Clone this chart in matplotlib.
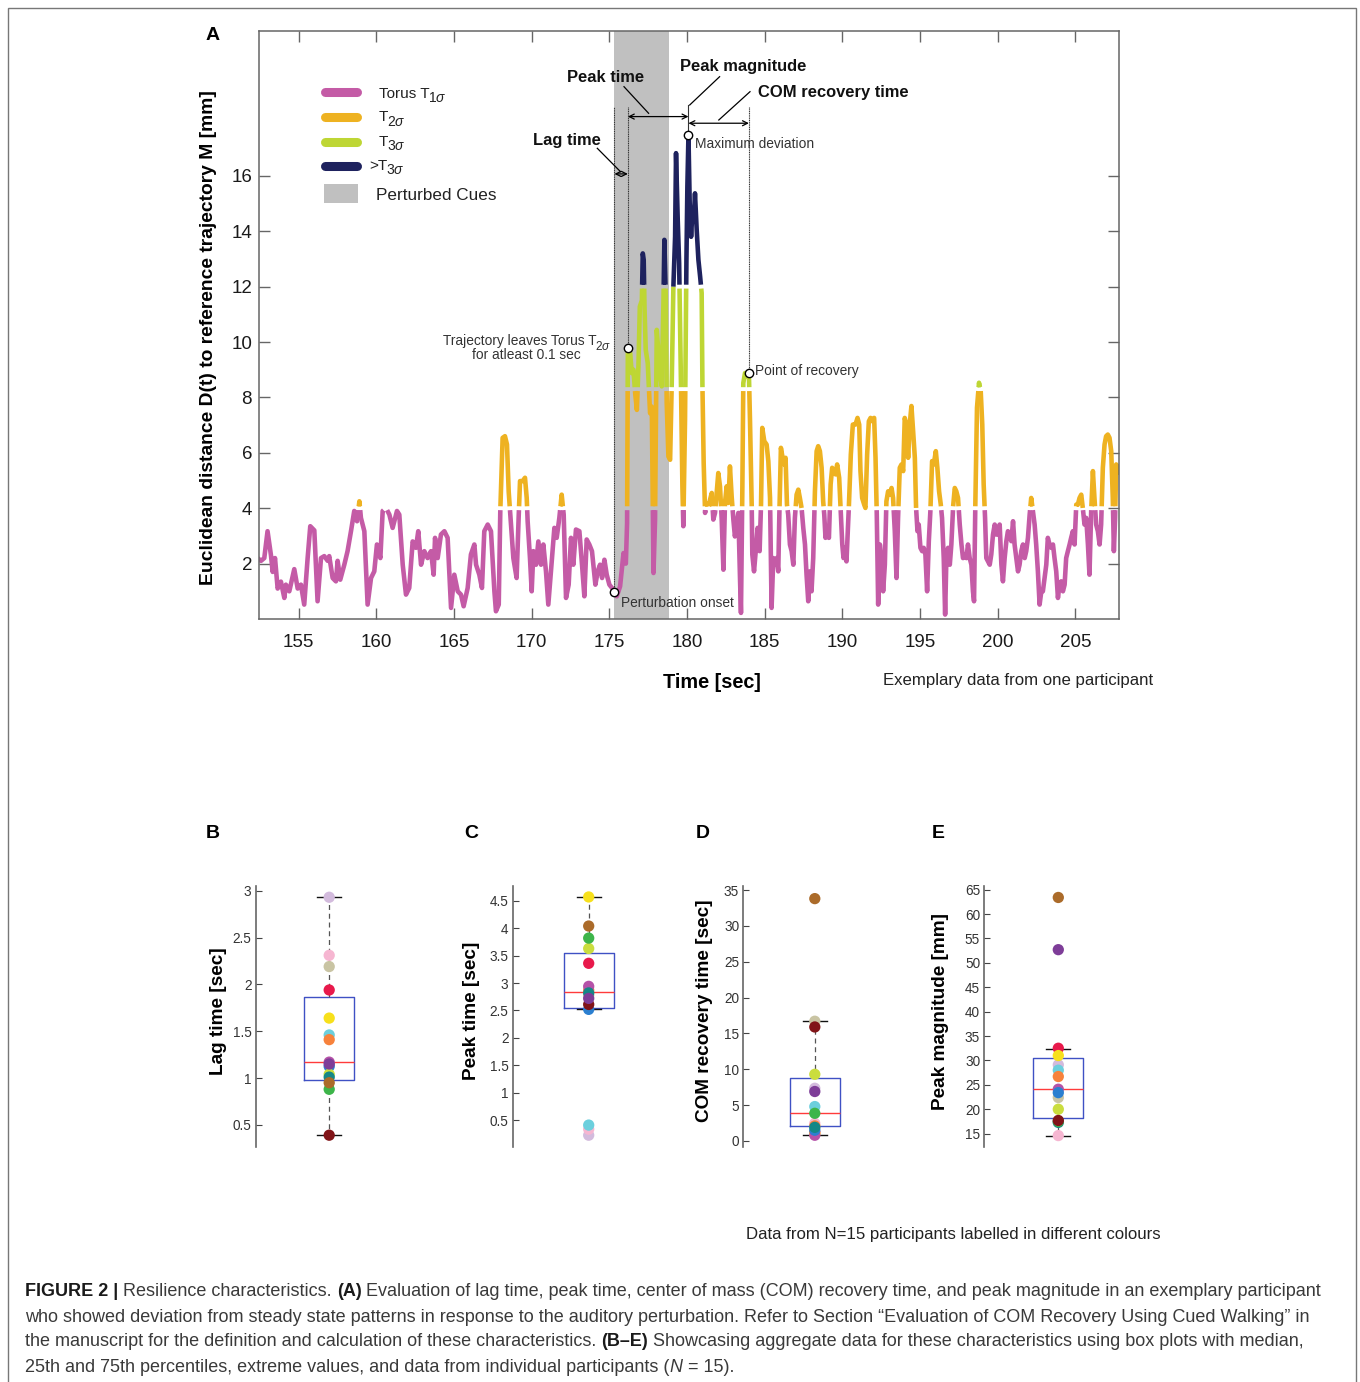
import numpy as np
import matplotlib
matplotlib.use('Agg')
import matplotlib.pyplot as plt
from matplotlib.collections import LineCollection
from matplotlib.lines import Line2D
from matplotlib.patches import Rectangle

plt.rcParams['font.family'] = ['Liberation Sans', 'DejaVu Sans']
plt.rcParams['mathtext.fontset'] = 'custom'
plt.rcParams['mathtext.rm'] = 'Liberation Sans'
plt.rcParams['mathtext.it'] = 'Liberation Sans:italic'
plt.rcParams['mathtext.bf'] = 'Liberation Sans:bold'

# ---------------- data: panel A (one participant) ----------------
t_pre1 = [152.36, 152.58, 152.79, 153.00, 153.22, 153.33, 153.48, 153.65, 153.86, 154.08,
          154.18, 154.40, 154.72, 154.94, 155.15, 155.36, 155.58, 155.75, 156.01, 156.22,
          156.44, 156.65, 156.87, 156.97, 157.19, 157.40, 157.51, 157.68, 157.94, 158.15,
          158.37, 158.58, 158.76, 158.91, 159.01, 159.23, 159.44, 159.66, 159.87, 160.04,
          160.26, 160.41, 160.62, 160.84, 161.05, 161.33, 161.48, 161.70, 161.91, 162.12,
          162.34, 162.55, 162.70, 162.88, 163.09, 163.30, 163.52, 163.69, 163.78, 163.95,
          164.16, 164.38, 164.59, 164.81, 165.02, 165.24, 165.45, 165.62, 165.88, 166.09,
          166.31]
d_pre1 = [2.2, 2.1, 2.2, 3.17, 2.3, 1.7, 2.2, 1.1, 1.35, 0.76,
          1.24, 1.0, 1.8, 1.1, 1.24, 0.52, 2.2, 3.35, 3.2, 0.64,
          2.2, 2.27, 2.1, 2.27, 1.48, 1.36, 2.1, 1.42, 1.96, 2.45,
          3.17, 3.9, 3.53, 4.25, 3.65, 3.17, 0.52, 1.48, 1.72, 2.69,
          2.2, 3.9, 4.01, 3.77, 3.29, 3.9, 3.77, 1.96, 0.88, 1.12,
          2.8, 2.57, 3.17, 1.96, 2.45, 2.2, 2.45, 1.6, 2.93, 2.2,
          3.05, 3.17, 2.93, 0.4, 1.6, 1.0, 0.88, 0.46, 1.12, 2.33,
          2.69]

t_pre2 = [166.42, 166.63, 166.80, 166.95, 167.17, 167.38, 167.60, 167.70, 167.88, 167.98,
          168.13, 168.28, 168.41, 168.52, 168.67, 168.82, 169.03, 169.16, 169.25, 169.42,
          169.57, 169.68, 169.74, 169.89, 170.00, 170.11, 170.28, 170.43, 170.60, 170.75,
          170.92, 171.07, 171.24, 171.46, 171.61, 171.78, 171.93, 172.06, 172.21, 172.38,
          172.53, 172.68, 172.85, 173.07, 173.24, 173.39, 173.54, 173.71, 173.88, 174.10,
          174.25, 174.40, 174.53, 174.68, 174.83, 175.00, 175.17]
d_pre2 = [1.96, 1.6, 1.12, 3.17, 3.41, 3.17, 1.0, 0.28, 0.52, 3.9,
          6.54, 6.6, 6.3, 4.6, 3.4, 2.2, 1.48, 3.65, 4.98, 4.98,
          5.1, 4.37, 3.53, 2.2, 1.0, 2.45, 1.96, 2.8, 1.96, 2.69,
          1.72, 0.52, 1.72, 3.29, 2.93, 3.65, 4.49, 3.77, 0.76, 1.24,
          2.93, 1.96, 3.23, 3.17, 1.96, 0.82, 2.87, 2.69, 2.45, 1.24,
          1.72, 1.96, 1.48, 2.14, 1.6, 1.24, 1.12]

t_pert = [175.33, 175.48, 175.69, 175.91, 176.06, 176.14, 176.19, 176.34, 176.44, 176.55,
          176.66, 176.77, 176.87, 176.96, 177.09, 177.15, 177.21, 177.26, 177.34, 177.47,
          177.62, 177.73, 177.84, 177.94, 178.05, 178.16, 178.26, 178.37, 178.48, 178.54,
          178.63, 178.69, 178.80, 178.91, 179.01, 179.12, 179.23, 179.29, 179.40, 179.49,
          179.61, 179.70, 179.76, 179.87, 179.96, 180.02, 180.09, 180.17, 180.26, 180.34,
          180.43, 180.51, 180.62, 180.73, 180.84, 180.94, 180.99, 181.07, 181.16, 181.26,
          181.37, 181.48, 181.59, 181.69, 181.80, 182.01, 182.12, 182.23, 182.34, 182.44,
          182.55, 182.66, 182.76, 182.87, 182.98, 183.08, 183.30, 183.41, 183.47, 183.56,
          183.62, 183.73, 183.90, 183.98, 184.05]
d_pert = [0.99, 0.82, 1.18, 2.38, 2.0, 3.46, 9.77, 9.6, 8.88, 9.0,
          8.16, 7.55, 9.12, 11.28, 11.5, 13.2, 12.97, 11.28, 9.72, 9.24,
          7.43, 7.67, 1.66, 3.59, 10.44, 9.6, 8.88, 8.4, 11.4, 13.69,
          11.64, 7.8, 5.87, 5.75, 8.4, 12.0, 13.8, 16.82, 14.41, 12.85,
          8.4, 4.79, 3.35, 7.2, 12.97, 15.61, 17.48, 15.01, 13.8, 14.65,
          14.41, 15.37, 14.05, 12.97, 12.37, 11.77, 8.4, 5.63, 3.83, 4.19,
          3.95, 4.31, 4.55, 3.59, 3.83, 5.27, 4.79, 3.59, 1.78, 4.19,
          4.79, 4.19, 5.51, 4.43, 3.59, 2.98, 3.83, 1.42, 0.22, 4.79,
          8.52, 8.88, 8.76, 8.88, 7.19]

t_post1 = [184.16, 184.20, 184.31, 184.42, 184.54, 184.67, 184.76, 184.84, 184.97, 185.12,
           185.23, 185.34, 185.44, 185.55, 185.66, 185.77, 185.87, 185.94, 186.04, 186.15,
           186.26, 186.34, 186.43, 186.51, 186.62, 186.73, 186.84, 186.94, 187.05, 187.16,
           187.26, 187.37, 187.48, 187.59, 187.69, 187.80, 187.91, 188.01, 188.12, 188.23,
           188.34, 188.44, 188.55, 188.66, 188.76, 188.83, 188.91, 189.02, 189.13, 189.24,
           189.34, 189.45, 189.56, 189.66, 189.79, 189.90, 189.99, 190.07, 190.16, 190.26,
           190.41, 190.54, 190.67, 190.84, 190.97, 191.08, 191.16, 191.27, 191.40, 191.48,
           191.59, 191.70, 191.81, 191.93, 192.04, 192.13, 192.21, 192.30, 192.41, 192.51,
           192.62, 192.73, 192.83, 192.94, 193.05, 193.16, 193.26, 193.37, 193.48, 193.58,
           193.69, 193.80, 193.91, 194.01, 194.12, 194.23, 194.33, 194.44, 194.55, 194.66,
           194.74, 194.83, 194.91, 195.02, 195.13, 195.23, 195.34, 195.45, 195.56, 195.66,
           195.77]
d_post1 = [4.13, 2.33, 1.72, 2.45, 3.29, 2.45, 4.13, 6.9, 6.42, 6.3,
           5.7, 4.37, 0.4, 2.2, 1.96, 2.2, 1.72, 3.77, 6.18, 5.82,
           5.58, 5.82, 4.13, 3.77, 2.69, 2.45, 1.96, 3.65, 4.49, 4.67,
           4.37, 4.01, 3.29, 2.69, 1.6, 0.64, 1.72, 1.0, 2.2, 4.61,
           6.06, 6.24, 6.06, 5.46, 4.25, 3.77, 2.93, 3.17, 2.93, 4.86,
           5.46, 5.34, 5.22, 5.58, 5.1, 3.77, 2.69, 2.2, 2.57, 2.08,
           4.01, 5.94, 7.02, 7.02, 7.26, 7.02, 5.34, 4.37, 4.13, 4.01,
           5.94, 7.14, 7.26, 7.14, 7.26, 5.82, 3.77, 0.52, 2.69, 2.2,
           1.0, 1.96, 4.25, 4.61, 4.49, 4.73, 4.37, 3.17, 1.48, 3.65,
           5.46, 5.58, 5.34, 7.26, 7.02, 5.82, 7.02, 7.69, 6.78, 5.82,
           4.01, 3.17, 3.41, 2.57, 2.45, 2.57, 2.33, 1.0, 2.81, 3.89,
           5.7]

t_post2 = [195.88, 196.01, 196.11, 196.22, 196.33, 196.41, 196.52, 196.61, 196.69, 196.80,
           196.91, 197.01, 197.12, 197.23, 197.33, 197.44, 197.55, 197.66, 197.76, 197.87,
           197.98, 198.08, 198.19, 198.30, 198.40, 198.47, 198.55, 198.66, 198.79, 198.90,
           199.00, 199.09, 199.18, 199.26, 199.37, 199.48, 199.58, 199.69, 199.80, 199.90,
           200.01, 200.12, 200.23, 200.33, 200.44, 200.55, 200.65, 200.76, 200.87, 200.98,
           201.08, 201.19, 201.30, 201.40, 201.51, 201.62, 201.73, 201.83, 201.94, 202.05,
           202.15, 202.26, 202.37, 202.47, 202.58, 202.69, 202.80, 202.90, 203.01, 203.12,
           203.22, 203.33, 203.44, 203.55, 203.65, 203.76, 203.87, 203.97, 204.08, 204.19,
           204.30, 204.40, 204.51, 204.62, 204.72, 204.83, 204.94, 205.05, 205.15, 205.26,
           205.37, 205.47, 205.58, 205.69, 205.80, 205.90, 206.01, 206.12, 206.22, 206.33,
           206.44, 206.55, 206.65, 206.76, 206.87, 206.97, 207.08, 207.19, 207.30, 207.40,
           207.47, 207.55, 207.62, 207.72, 207.83]
d_post2 = [5.58, 6.06, 5.46, 4.61, 4.13, 3.65, 2.2, 0.16, 2.2, 2.57,
           1.96, 2.69, 4.01, 4.73, 4.61, 4.37, 3.41, 2.69, 2.2, 2.33,
           2.2, 2.69, 2.2, 1.96, 1.0, 0.64, 4.01, 7.63, 8.53, 8.23,
           7.02, 4.86, 3.65, 2.2, 2.08, 1.96, 2.33, 3.05, 3.41, 3.05,
           3.05, 3.41, 1.96, 1.36, 2.2, 2.81, 3.17, 3.05, 2.81, 3.53,
           2.69, 2.2, 1.72, 1.96, 2.45, 2.69, 2.2, 2.45, 2.93, 3.77,
           4.37, 3.89, 3.41, 2.69, 1.72, 0.52, 1.0, 1.0, 1.48, 1.96,
           2.93, 2.69, 2.57, 2.69, 2.2, 1.72, 0.76, 1.24, 1.36, 1.0,
           1.24, 2.2, 2.45, 2.69, 2.93, 3.17, 2.69, 4.13, 4.13, 4.37,
           4.49, 4.01, 3.41, 3.65, 2.69, 1.6, 3.89, 5.34, 4.37, 3.41,
           3.17, 2.69, 3.41, 5.46, 6.3, 6.6, 6.66, 6.54, 6.06, 4.37,
           2.45, 3.65, 5.58, 5.46, 5.22]

torus_levels = [4.0, 8.3, 12.0]          # T1 / T2 / T3 boundaries [mm]
band_colors = ['#c45ba6', '#eeb221', '#bed634', '#1e225e']
band_main = ['Torus T', 'T', 'T', '>T']
band_subs = [r'$1\sigma$', r'$2\sigma$', r'$3\sigma$', r'$3\sigma$']

cue_start, cue_end = 175.33, 178.84
onset_t, onset_d = 175.33, 0.99
lag_t, lag_d = 176.19, 9.77
peak_t, peak_d = 180.09, 17.48
recov_t, recov_d = 183.98, 8.88

# ---------------- data: panels B-E (15 participants) ----------------
part_colors = ['#d3bbdd', '#f6b6d1', '#c9c4a3', '#e8194b', '#f7e01c',
               '#6ccfdd', '#f7823c', '#b552a8', '#2b7fd0', '#cadd3e',
               '#148787', '#3db54a', '#ab6b2a', '#811418', '#7e3d98']
lag_sec = [2.93, 2.31, 2.19, 1.94, 1.64, 1.46, 1.41, 1.17, 1.125, 1.04, 1.01, 0.88, 0.95, 0.39, 1.15]
peak_sec = [0.225, 0.335, 2.78, 3.36, 4.57, 0.41, 2.87, 2.94, 2.52, 3.63, 2.82, 3.82, 4.04, 2.61, 2.72]
com_sec = [7.35, 2.46, 16.7, 1.2, 1.0, 4.8, 2.1, 0.8, 1.5, 9.3, 1.9, 3.86, 33.8, 15.9, 6.9]
mag_mm = [29.1, 14.6, 22.4, 32.5, 31.0, 28.0, 26.7, 24.1, 23.4, 20.0, 17.3, 17.5, 63.4, 17.7, 52.7]
# box summaries: q1, median, q3, lower whisker, upper whisker
lag_box = [0.98, 1.17, 1.86, 0.39, 2.93]
peak_box = [2.55, 2.83, 3.55, 2.53, 4.57]
com_box = [2.1, 3.86, 8.83, 0.8, 16.7]
mag_box = [18.2, 24.05, 30.5, 14.6, 32.35]

W, H = 1360, 1382
fig = plt.figure(figsize=(W / 100, H / 100), dpi=100)
renderer = fig.canvas.get_renderer()


def fx(x):
    return x / W


def fy(y):
    return 1 - y / H


def ftext(x, y, s, **kw):
    return fig.text(fx(x), fy(y), s, **kw)


def sub_text(x, y, main, sub, size, subsize, drop, **kw):
    # main text on baseline y (pixels), subscript placed right after it
    t = ftext(x, y, main, fontsize=size, va='baseline', **kw)
    w = t.get_window_extent(renderer).width
    ftext(x + w - 1.5, y + drop, sub, fontsize=subsize, va='baseline', **kw)


def band_paths(t, d, levels, gap=0.07):
    # split the trace into runs of one torus band, with a small gap at each crossing
    paths = [[] for _ in range(len(levels) + 1)]
    cur, cur_k = None, None
    for i in range(len(t) - 1):
        t0, v0, t1, v1 = t[i], d[i], t[i + 1], d[i + 1]
        cuts = [0.0, 1.0]
        for lv in levels:
            if (v0 - lv) * (v1 - lv) < 0:
                cuts.append((lv - v0) / (v1 - v0))
        cuts.sort()
        g = gap / abs(v1 - v0) if v1 != v0 else 0
        for a, b in zip(cuts[:-1], cuts[1:]):
            mid = v0 + 0.5 * (a + b) * (v1 - v0)
            k = int(np.searchsorted(levels, mid))
            pb_frac = b - g if b < 1 else b
            pa_frac = a + g if a > 0 else a
            pb = (t0 + pb_frac * (t1 - t0), v0 + pb_frac * (v1 - v0))
            pa = (t0 + pa_frac * (t1 - t0), v0 + pa_frac * (v1 - v0))
            if a == 0 and cur is not None and cur_k == k:
                if pb_frac > pa_frac:
                    cur.append(pb)
            else:
                if cur is not None and len(cur) > 1:
                    paths[cur_k].append(cur)
                cur, cur_k = ([pa, pb] if pb_frac > pa_frac else [pa]), k
    if cur is not None and len(cur) > 1:
        paths[cur_k].append(cur)
    return paths


# ---------------- panel A ----------------
ax = fig.add_axes([fx(259), fy(619), fx(1119 - 259), (619 - 31) / H])
time_s = np.array(t_pre1 + t_pre2 + t_pert + t_post1 + t_post2)
dist_mm = np.array(d_pre1 + d_pre2 + d_pert + d_post1 + d_post2)
ax.axvspan(cue_start, cue_end, color='#c0c0c0', lw=0, zorder=0)
for k, runs in enumerate(band_paths(time_s, dist_mm, torus_levels)):
    lc = LineCollection(runs, colors=band_colors[k], linewidths=3.3,
                        capstyle='butt', joinstyle='round', zorder=2)
    ax.add_collection(lc)

ax.set_xlim(152.45, 207.8)
ax.set_ylim(0.0, 21.23)
ax.set_xticks(range(155, 206, 5))
ax.set_yticks(range(2, 17, 2))
ax.tick_params(direction='in', length=8, top=True, right=True, labelsize=13.5,
               color='#666666', labelcolor='#1a1a1a', width=1)
ax.tick_params(axis='x', pad=11)
ax.tick_params(axis='y', pad=5)
for sp in ax.spines.values():
    sp.set_color('#666666')
    sp.set_linewidth(1.1)

# event markers and guide lines
line_top = 18.5
for tt, dd in [(onset_t, onset_d), (lag_t, lag_d), (recov_t, recov_d)]:
    ax.plot([tt, tt], [dd, line_top], color='#333333', lw=0.8, ls=(0, (1, 0.6)), zorder=3)
ax.plot([peak_t, peak_t], [peak_d, 18.56], color='#333333', lw=0.8, zorder=3)
for tt, dd in [(onset_t, onset_d), (lag_t, lag_d), (peak_t, peak_d), (recov_t, recov_d)]:
    ax.plot(tt, dd, 'o', mfc='white', mec='k', ms=6, mew=1.0, zorder=4)

arrow_kw = dict(arrowstyle='<->', lw=0.9, color='k', shrinkA=0, shrinkB=0, mutation_scale=9)
ax.annotate('', xy=(lag_t, 16.07), xytext=(onset_t, 16.07), arrowprops=arrow_kw)
ax.annotate('', xy=(peak_t, 18.14), xytext=(lag_t, 18.14), arrowprops=arrow_kw)
ax.annotate('', xy=(recov_t, 17.9), xytext=(peak_t, 17.9), arrowprops=arrow_kw)

# leader lines and labels
for (x0, y0), (x1, y1) in [((624, 86.7), (648.6, 113.3)), ((719.6, 76.7), (689.7, 105)),
                           ((750, 91.7), (718.8, 120)), ((597.3, 148.3), (620.5, 171.7))]:
    fig.add_artist(Line2D([fx(x0), fx(x1)], [fy(y0), fy(y1)], color='k', lw=0.9))

bold_kw = dict(fontsize=11.9, fontweight='bold', va='center', color='#111111')
ftext(606, 78, 'Peak time', ha='center', **bold_kw)
ftext(743, 66, 'Peak magnitude', ha='center', **bold_kw)
ftext(833, 92, 'COM recovery time', ha='center', **bold_kw)
ftext(567, 141, 'Lag time', ha='center', **bold_kw)

note_kw = dict(fontsize=9.9, va='center', color='#333333')
ftext(695, 144, 'Maximum deviation', ha='left', **note_kw)
ftext(755, 371, 'Point of recovery', ha='left', **note_kw)
ftext(621, 603, 'Perturbation onset', ha='left', **note_kw)
sub_text(443, 345.5, 'Trajectory leaves Torus T', r'$2\sigma$', 9.9, 8.6, 4, color='#333333')
ftext(526, 355, 'for atleast 0.1 sec', ha='center', **note_kw)

# legend (drawn by hand to match the layout)
for k, (yy, base) in enumerate(zip([92, 117, 142, 166], [97.5, 121, 146, 170])):
    fig.add_artist(Line2D([fx(325), fx(357)], [fy(yy), fy(yy)], color=band_colors[k],
                          lw=6.5, solid_capstyle='round'))
    sub_text(379 if k < 3 else 369, base, band_main[k], band_subs[k], 11, 10, 4.5, color='#222222')
fig.add_artist(Rectangle((fx(324), fy(203)), fx(34), 19 / H, color='#c0c0c0', lw=0))
ftext(376, 195, 'Perturbed Cues', fontsize=12.3, va='center', color='#222222')

ftext(213, 35, 'A', fontsize=14, fontweight='bold', ha='center', va='center')
ftext(712, 682, 'Time [sec]', fontsize=14.3, fontweight='bold', ha='center', va='center')
ftext(209, 338, 'Euclidean distance D(t) to reference trajectory M [mm]', fontsize=13.9,
      fontweight='bold', rotation=90, ha='center', va='center')
ftext(883, 680, 'Exemplary data from one participant', fontsize=12.05, va='center', color='#222222')

# ---------------- panels B-E ----------------
panels = [
    ('B', 'Lag time [sec]', lag_sec, lag_box, (0.264, 3.05), np.arange(0.5, 3.01, 0.5),
     255.7, 147, 213, 218),
    ('C', 'Peak time [sec]', peak_sec, peak_box, (0.01, 4.77), np.arange(0.5, 4.51, 0.5),
     512.7, 152, 471, 471),
    ('D', 'COM recovery time [sec]', com_sec, com_box, (-0.84, 35.56), np.arange(0, 36, 5),
     743.3, 143, 703, 704),
    ('E', 'Peak magnitude [mm]', mag_mm, mag_box, (12.26, 65.75), np.arange(15, 66, 5),
     984.3, 148, 938, 940.5),
]
for letter, ylabel, vals, box, ylim, yticks, left, width, lx, labx in panels:
    bax = fig.add_axes([fx(left), fy(1147), fx(width), (1147 - 886) / H])
    q1, med, q3, lo, hi = box
    stats = [dict(q1=q1, med=med, q3=q3, whislo=lo, whishi=hi, fliers=[])]
    bax.bxp(stats, positions=[1], widths=50 / width, showfliers=False, capwidths=24 / width,
            boxprops=dict(color='#3f51c4', lw=1.0),
            medianprops=dict(color='#ff3b3b', lw=1.0),
            whiskerprops=dict(color='#555555', lw=0.9, linestyle=(0, (4, 3))),
            capprops=dict(color='#111111', lw=1.0), manage_ticks=False)
    bax.scatter(np.ones(len(vals)), vals, s=66, c=part_colors[:len(vals)], linewidths=0, zorder=4)
    bax.set_xlim(0.5, 1.5)
    bax.set_ylim(*ylim)
    bax.set_xticks([])
    bax.set_yticks(yticks)
    bax.set_yticklabels(['%g' % v for v in yticks])
    bax.tick_params(axis='y', direction='in', length=4, labelsize=9.8, labelcolor='#333333',
                    color='#444444', pad=3)
    for side in ['top', 'right', 'bottom']:
        bax.spines[side].set_visible(False)
    bax.spines['left'].set_color('#666666')
    bax.spines['left'].set_linewidth(1.2)
    ftext(lx, 834, letter, fontsize=14, fontweight='bold', ha='center', va='center')
    ftext(labx, 1011, ylabel, fontsize=13.7, fontweight='bold', rotation=90, ha='center', va='center')

ftext(746, 1234, 'Data from N=15 participants labelled in different colours', fontsize=12.05,
      va='center', color='#222222')

# ---------------- caption ----------------
cap_size = 12.95


def text_width(s, **kw):
    t = fig.text(0, 0, s, fontsize=cap_size, **kw)
    w = t.get_window_extent(renderer).width
    t.remove()
    return w


space_w = text_width('x x') - text_width('xx')


def rich_line(x, y, parts):
    for s, style, gap in parts:
        kw = dict(color='#3a3a3a')
        if style == 'b':
            kw = dict(fontweight='bold', color='#1a1a1a')
        elif style == 'i':
            kw = dict(fontstyle='italic', color='#3a3a3a')
        t = ftext(x, y + 5.5, s, fontsize=cap_size, va='baseline', **kw)
        x += t.get_window_extent(renderer).width + (space_w if gap else 0)


rich_line(25, 1290, [('FIGURE 2 |', 'b', True), ('Resilience characteristics.', 'n', True),
                     ('(A)', 'b', True),
                     ('Evaluation of lag time, peak time, center of mass (COM) recovery time, '
                      'and peak magnitude in an exemplary participant', 'n', False)])
rich_line(25, 1316, [('who showed deviation from steady state patterns in response to the auditory '
                      'perturbation. Refer to Section \u201cEvaluation of COM Recovery Using Cued '
                      'Walking\u201d in', 'n', False)])
rich_line(25, 1341, [('the manuscript for the definition and calculation of these characteristics.',
                      'n', True), ('(B\u2013E)', 'b', True),
                     ('Showcasing aggregate data for these characteristics using box plots with '
                      'median,', 'n', False)])
rich_line(25, 1366, [('25th and 75th percentiles, extreme values, and data from individual '
                      'participants (', 'n', False), ('N', 'i', True), ('= 15).', 'n', False)])

fig.add_artist(Rectangle((fx(8), fy(1420)), fx(1348), 1412 / H, fill=False,
                         edgecolor='#777777', lw=1.0))

fig.savefig('out.png', dpi=100)
